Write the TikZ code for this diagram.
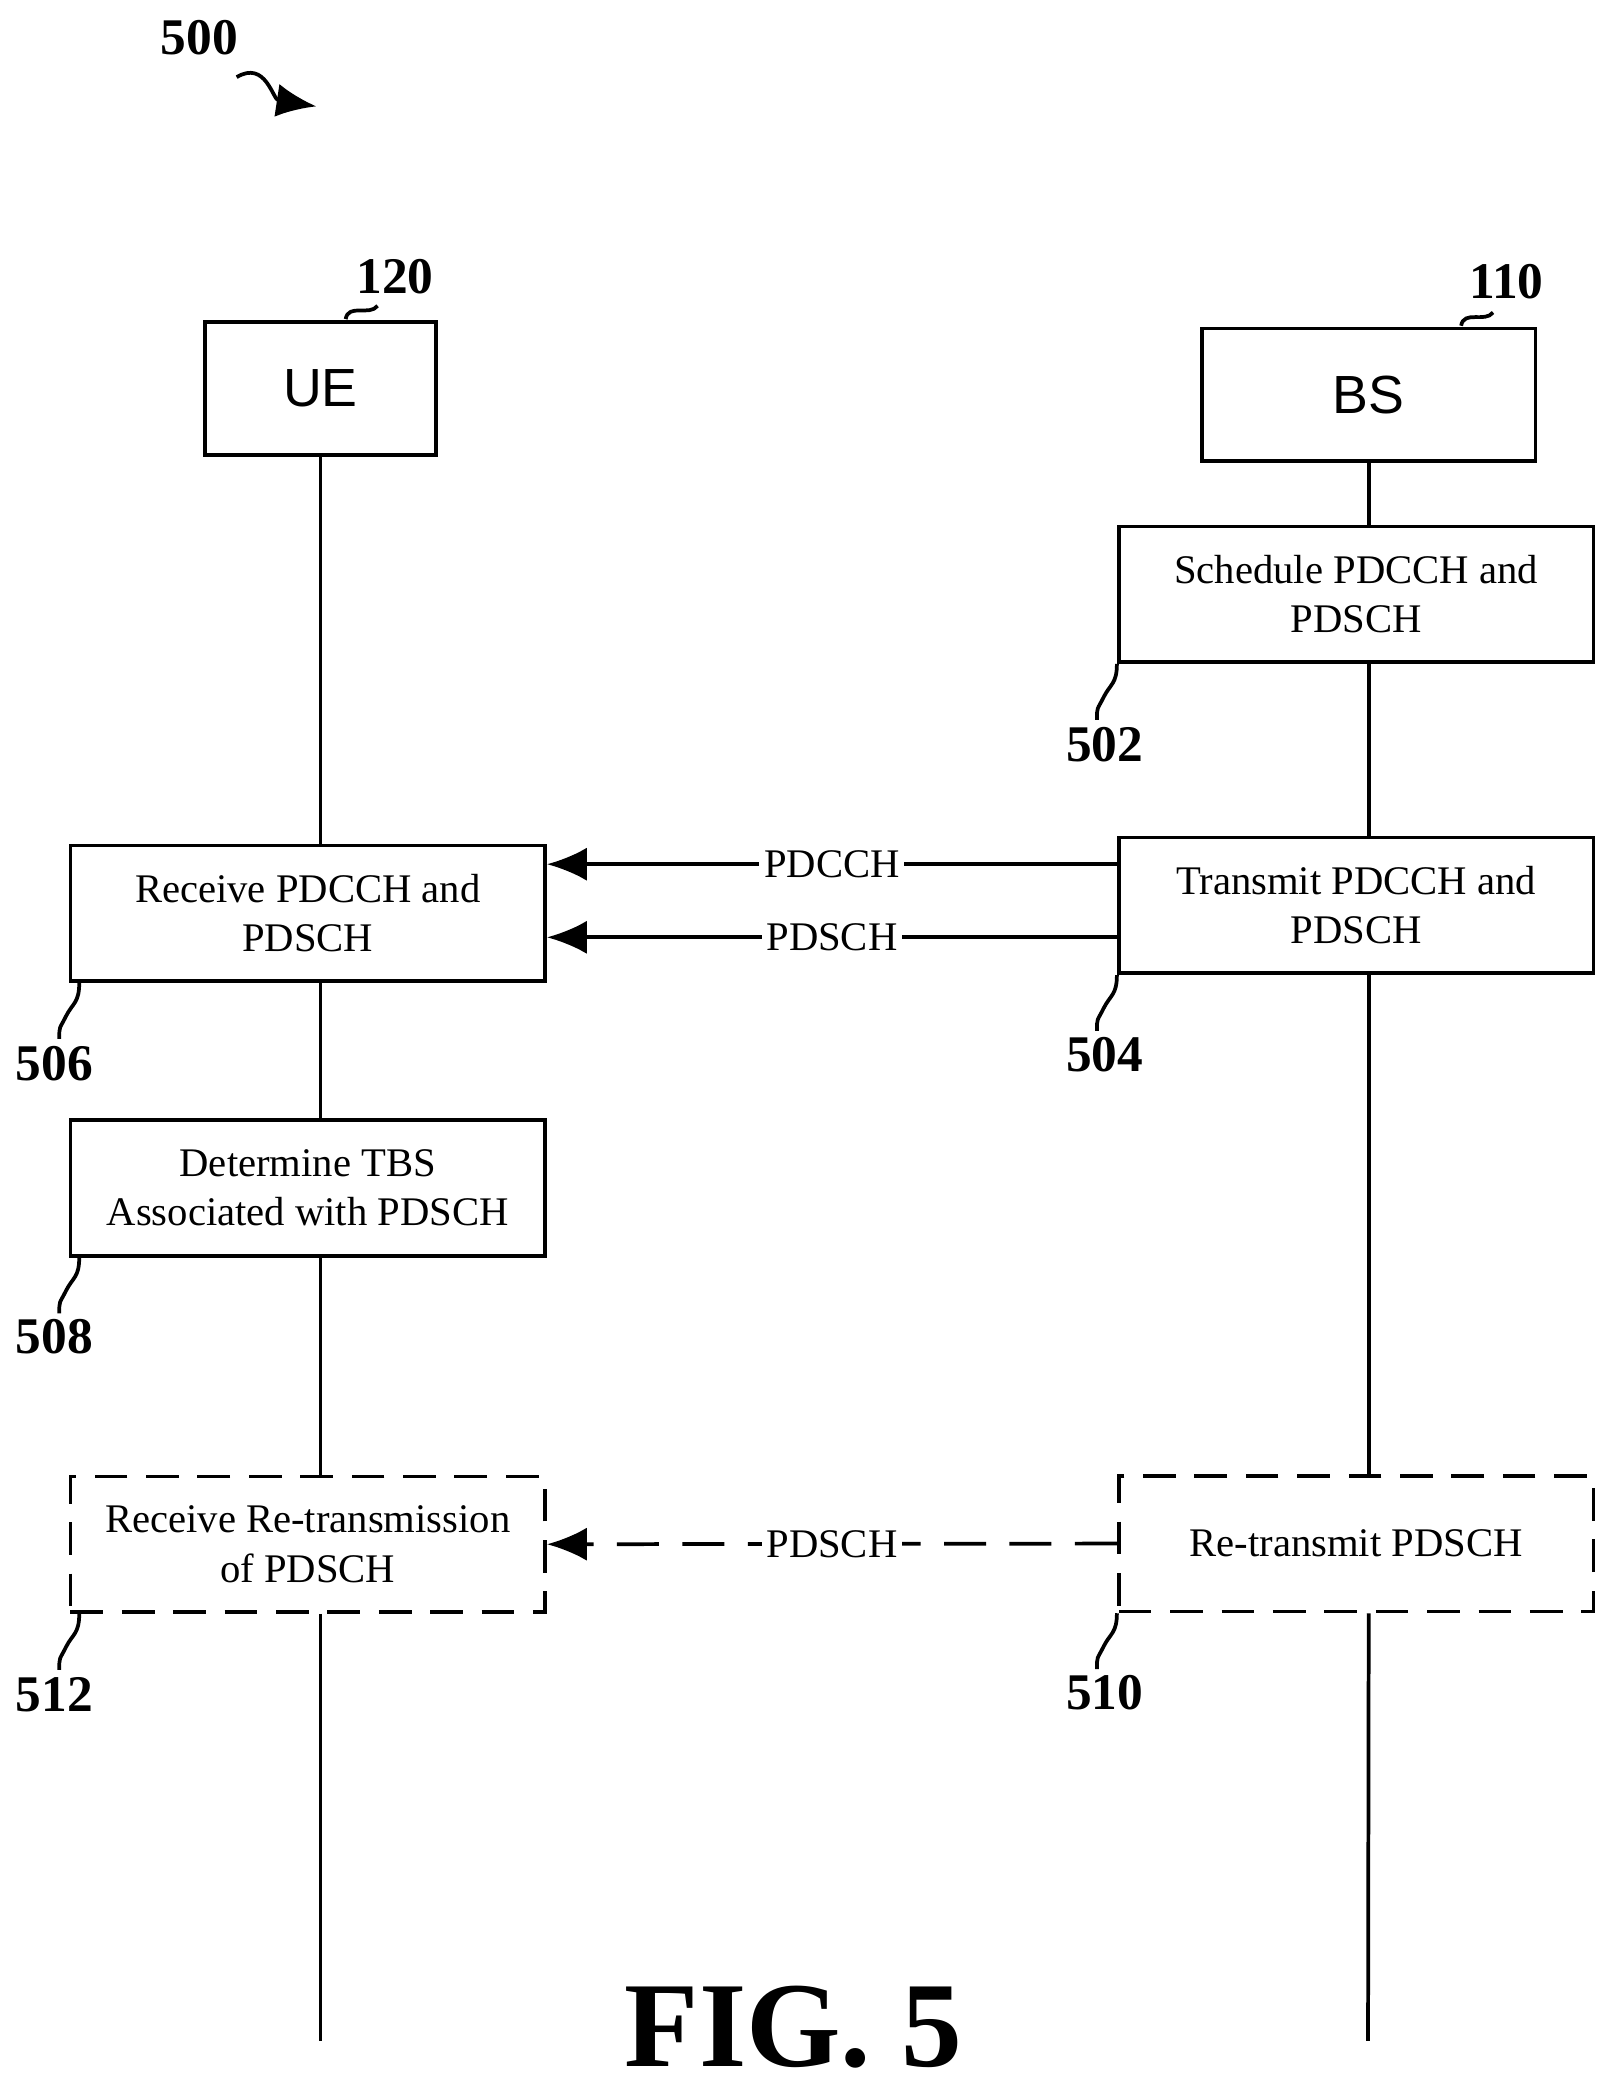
\documentclass[tikz,border=0pt]{standalone}
\usepackage{fontspec}
\setmainfont{Liberation Serif}
\newfontfamily\boxsans{Liberation Sans}
\usetikzlibrary{positioning,arrows.meta}
\begin{document}
\begin{tikzpicture}
      [
      action/.style={draw,thick,fill=white,minimum width=3.57cm,minimum height=1.02cm,align=center,inner sep=1pt,font=\fontsize{8.7}{10.5}\selectfont},
      retry/.style={action,dashed,dash pattern=on 7pt off 4pt},
      entity/.style={draw,thick,minimum height=1cm,font=\boxsans\fontsize{11.5}{14}\selectfont},
      num/.style={font=\bfseries\fontsize{11}{13}\selectfont},
      msg/.style={thick,-{Latex[length=3mm,width=2.5mm,sep=0pt]}},
      tag/.style={fill=white,inner sep=1pt,font=\fontsize{8.7}{10.5}\selectfont},
      squig/.style={thick}
      ]
      \useasboundingbox (0,0) rectangle (12.15,-15.66);
      % entities
      \node (ue) at (2.41,-2.92) [entity,minimum width=1.74cm] {UE};
      \node (bs) at (10.295,-2.97) [entity,minimum width=2.51cm] {BS};
      \node (120) at (2.97,-2.08) [num] {120};
      \node (110) at (11.33,-2.12) [num] {110};
      \node (500) at (1.50,-0.28) [num] {500};
      \draw [squig] (2.60,-2.40) .. controls (2.62,-2.28) and (2.78,-2.38) .. (2.84,-2.30);
      \draw [squig] (10.99,-2.45) .. controls (11.01,-2.33) and (11.17,-2.43) .. (11.23,-2.35);
      \draw [squig,-{Latex[length=3mm,width=2.5mm]}] (1.78,-0.58) .. controls (2.0,-0.45) and (2.05,-0.75) .. (2.38,-0.80);
      % steps
      \node (502) at (10.20,-4.47) [action] {Schedule PDCCH and\\PDSCH};
      \node (504) at (10.20,-6.81) [action] {Transmit PDCCH and\\PDSCH};
      \node (506) at (2.315,-6.87) [action] {Receive PDCCH and\\PDSCH};
      \node (508) at (2.315,-8.935) [action] {Determine TBS\\Associated with PDSCH};
      \node (512) at (2.315,-11.615) [retry] {Receive Re-transmission\\of PDSCH};
      \node (510) at (10.20,-11.61) [retry] {Re-transmit PDSCH};
      \coordinate (ueend) at (2.41,-15.35);
      \coordinate (bsend) at (10.29,-15.35);
      % lifelines
      \draw [thick] (ue.south) -- (ue.south |- 506.north);
      \draw [thick] (ue.south |- 506.south) -- (ue.south |- 508.north);
      \draw [thick] (ue.south |- 508.south) -- (ue.south |- 512.north);
      \draw [thick] (ue.south |- 512.south) -- (ueend);
      \draw [thick] (bs.south) -- (bs.south |- 502.north);
      \draw [thick] (bs.south |- 502.south) -- (bs.south |- 504.north);
      \draw [thick] (bs.south |- 504.south) -- (bs.south |- 510.north);
      \draw [thick] (bs.south |- 510.south) -- (bsend);
      % messages
      \draw [msg] (504.west |- 0,-6.50) -- node[tag] {PDCCH} (506.east |- 0,-6.50);
      \draw [msg] (504.west |- 0,-7.05) -- node[tag] {PDSCH} (506.east |- 0,-7.05);
      \draw [msg,dash pattern=on 9pt off 5pt] (510.west) -- node[tag] {PDSCH} (512.east);
      % step numbers
      \foreach \n/\x/\y in {502/8.31/-5.60, 504/8.31/-7.93, 506/0.41/-8.00, 508/0.41/-10.05, 512/0.41/-12.75, 510/8.31/-12.73}
        \node at (\x,\y) [num] {\n};
      \foreach \s in {502,504,510}
        \draw [squig] (\s.south west) .. controls +(0,-0.15) and +(0.05,0.1) .. ++(-0.1,-0.25) .. controls +(-0.05,-0.1) and +(0,0.1) .. ++(-0.05,-0.17);
      \foreach \s in {506,508,512}
        \draw [squig] (\s.south west) ++(0.08,0) .. controls +(0,-0.15) and +(0.05,0.1) .. ++(-0.1,-0.25) .. controls +(-0.05,-0.1) and +(0,0.1) .. ++(-0.05,-0.17);
      \node at (5.97,-15.25) [font=\bfseries\fontsize{26}{30}\selectfont] {FIG. 5};
    \end{tikzpicture}
\end{document}
